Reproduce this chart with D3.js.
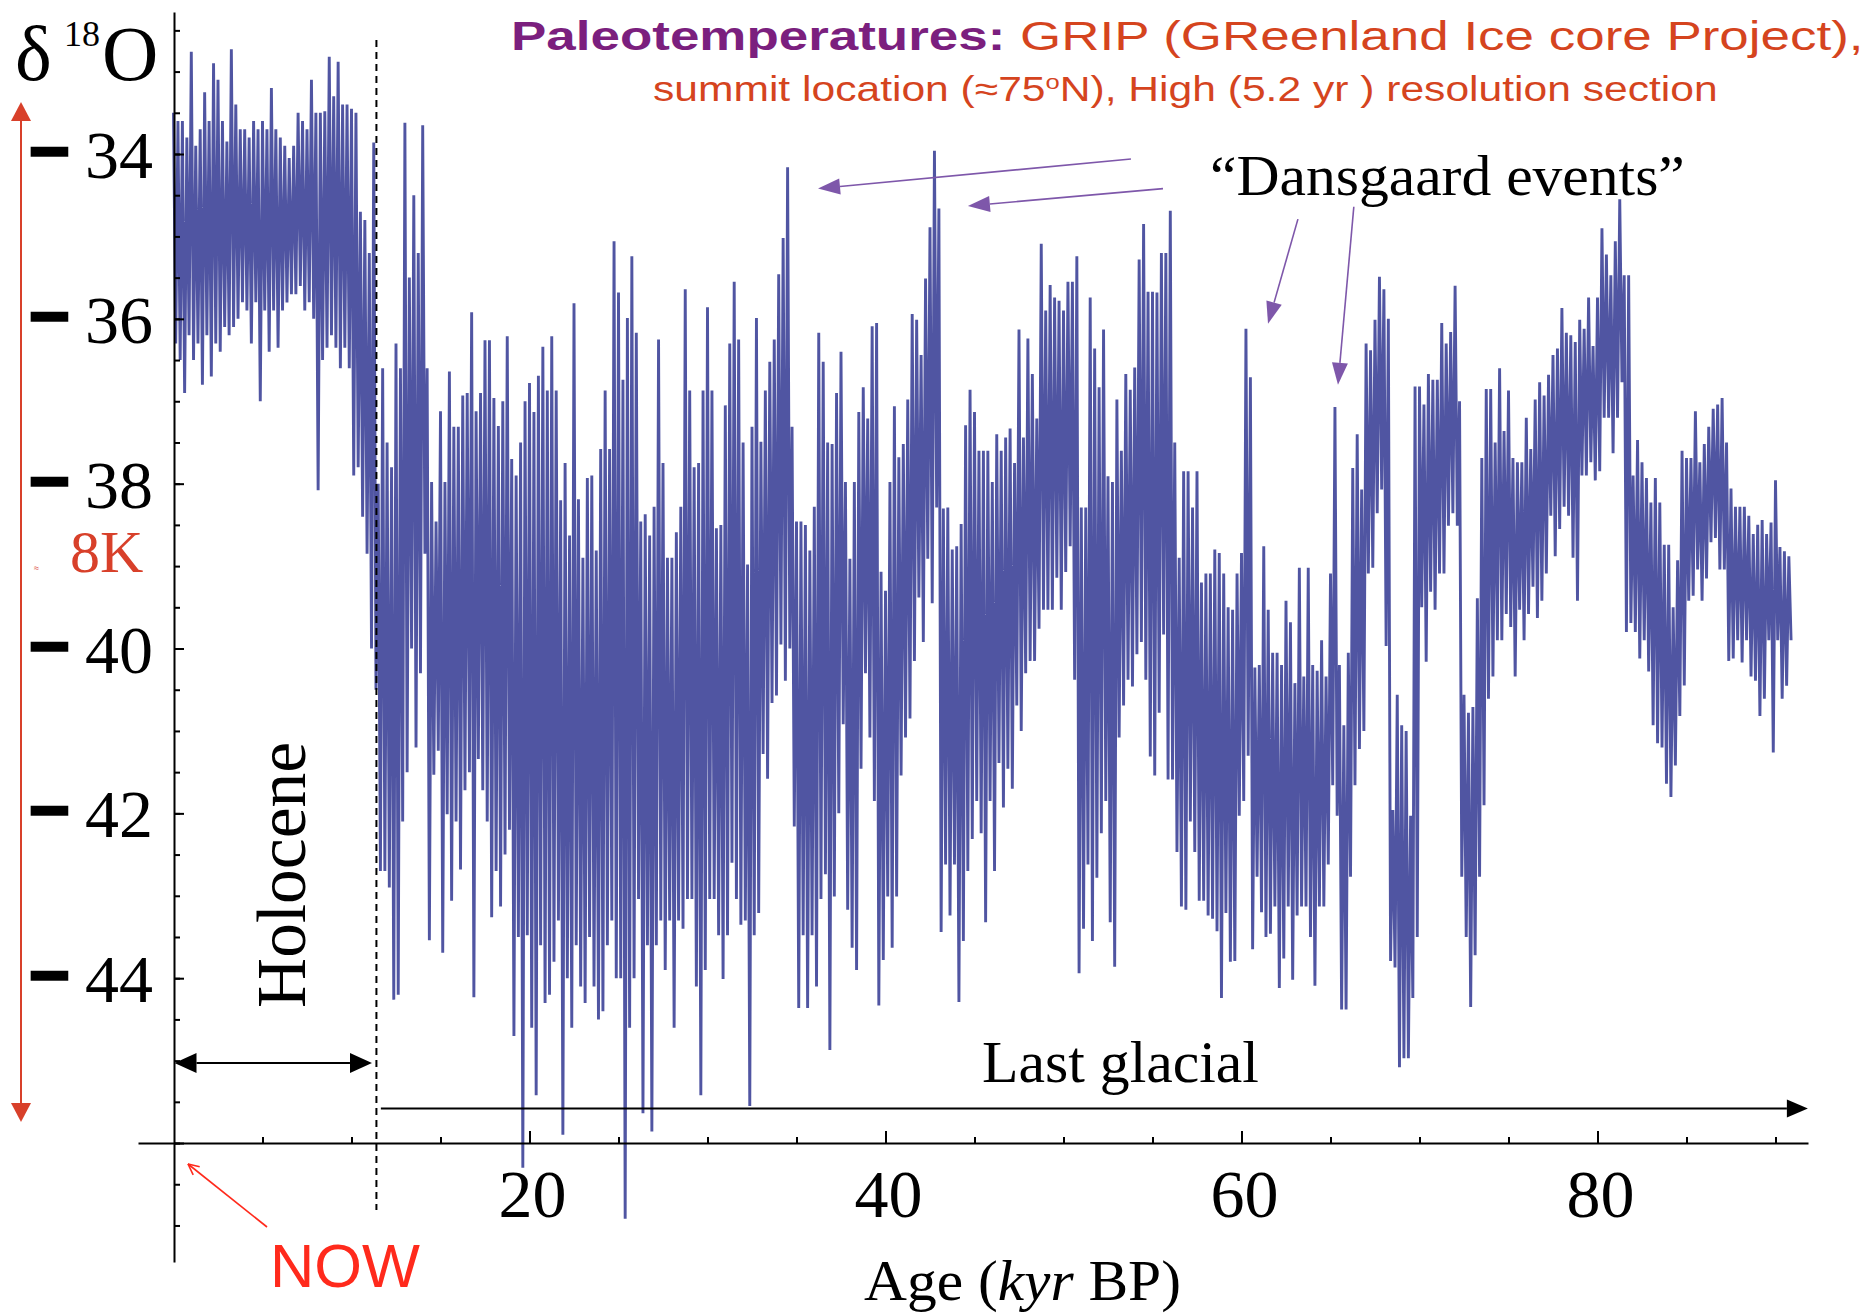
<!DOCTYPE html>
<html><head><meta charset="utf-8">
<script src="https://cdn.jsdelivr.net/npm/d3@7"></script>
<style>html,body{margin:0;padding:0;background:#fff;} svg{display:block;} text{white-space:pre;}</style>
</head><body>
<svg id="chart" width="1871" height="1313"></svg>
<script>
// ---- DATA: GRIP δ18O, read as per-bin upper (hi) and lower (lo) envelope, 0.25 kyr bins ----
const binWidth = 0.25; // kyr
const hi00 = [-33.5,-33.6,-33.6,-33.8,-32.76,-33.9,-33.7,-33.25,-33.6,-32.9,-33.1,-33.6,-33.85,-32.73,-33.4,-33.7,-33.7,-33.8,-33.6,-33.7,-33.6,-33.7,-33.2,-33.7,-33.8,-33.9,-34.05,-33.9,-33.5,-33.6,-33.7,-33.1,-33.5,-33.5,-33.48,-32.82,-33.3,-32.88,-33.4,-33.4];
const lo00 = [-36.3,-36.5,-36.9,-36.2,-36.5,-36.3,-36.8,-36.2,-36.7,-36.3,-36.4,-36.1,-36.2,-36.1,-36.0,-35.8,-35.9,-36.3,-35.8,-37.0,-35.9,-36.4,-35.9,-36.35,-35.9,-35.8,-35.7,-35.7,-35.6,-35.9,-35.8,-36.0,-38.08,-36.5,-36.35,-36.2,-36.35,-36.6,-36.35,-36.6];
const hi10 = [-33.45,-33.5,-34.7,-34.8,-35.2,-33.86,-38.0,-36.6,-37.5,-37.8,-36.3,-36.6,-33.62,-35.5,-34.5,-35.2,-33.65,-36.6,-37.98,-38.46,-37.12,-37.98,-36.64,-37.31,-37.31,-36.93,-36.9,-35.92,-37.12,-36.9,-36.26,-36.26,-36.96,-37.3,-37.0,-36.21,-37.7,-37.9,-37.5,-37.0];
const lo10 = [-37.9,-37.8,-38.4,-38.85,-40.0,-40.5,-42.7,-42.7,-42.9,-44.26,-44.2,-42.1,-41.5,-40.0,-41.2,-40.3,-38.85,-43.54,-41.53,-41.24,-43.69,-42.01,-43.06,-42.1,-42.68,-41.72,-41.5,-44.23,-41.34,-41.72,-42.1,-43.26,-42.7,-43.13,-42.5,-42.2,-44.7,-43.5,-46.3,-43.48];
const hi20 = [-36.78,-37.13,-36.69,-36.34,-36.87,-36.21,-36.87,-38.2,-37.75,-38.63,-35.81,-38.19,-38.9,-37.93,-37.9,-38.81,-37.58,-36.87,-37.58,-35.06,-35.68,-36.74,-35.99,-35.24,-36.17,-38.46,-38.37,-38.63,-38.28,-36.25,-37.75,-38.9,-38.9,-38.59,-38.28,-35.64,-36.87,-37.8,-37.75,-36.87];
const lo20 = [-44.6,-45.42,-43.6,-44.3,-44.2,-43.8,-43.3,-45.9,-44.0,-44.6,-43.6,-44.1,-44.3,-43.5,-44.1,-44.5,-44.4,-43.6,-43.3,-44.0,-44.0,-46.92,-44.6,-44.0,-43.04,-45.64,-43.6,-45.86,-43.6,-43.3,-43.9,-43.3,-44.6,-43.3,-43.4,-43.04,-43.04,-44.1,-45.42,-43.9];
const hi30 = [-35.86,-36.87,-38.54,-38.5,-37.05,-36.3,-35.55,-36.25,-37.5,-38.98,-37.31,-35.99,-37.49,-36.87,-36.52,-36.25,-35.46,-35.02,-34.16,-37.31,-38.46,-38.46,-38.5,-38.81,-38.28,-36.17,-36.52,-37.5,-37.52,-36.9,-36.4,-37.98,-38.91,-37.98,-37.13,-36.83,-37.21,-36.09,-36.05,-39.07];
const lo30 = [-43.04,-43.04,-43.48,-44.01,-43.48,-42.6,-43.04,-43.35,-43.3,-45.55,-43.48,-43.21,-41.28,-41.58,-40.66,-40.57,-39.95,-40.39,-40.0,-42.16,-44.36,-43.48,-44.36,-43.48,-44.1,-43.04,-42.74,-44.87,-43.01,-42.0,-40.92,-43.17,-43.63,-43.9,-41.46,-40.3,-41.08,-41.85,-44.33,-43.78];
const hi40 = [-39.3,-37.98,-37.06,-37.68,-37.52,-36.98,-35.94,-36.01,-36.44,-35.51,-34.89,-33.96,-34.66,-38.3,-38.29,-38.8,-38.76,-38.49,-37.29,-36.86,-37.13,-37.6,-37.6,-37.6,-37.98,-37.4,-37.6,-37.44,-37.33,-37.75,-36.13,-37.44,-36.24,-36.67,-37.21,-35.09,-35.9,-35.59,-35.74,-35.78];
const lo40 = [-43.01,-43.63,-43.01,-41.54,-41.08,-40.85,-40.15,-39.38,-39.92,-38.91,-39.45,-38.29,-43.44,-42.62,-43.24,-42.62,-44.29,-43.55,-42.7,-42.31,-41.85,-42.24,-43.32,-41.85,-42.7,-41.39,-41.93,-41.46,-41.7,-40.69,-41.0,-40.3,-40.15,-40.15,-39.76,-39.53,-39.53,-39.53,-39.14,-39.53];
const hi50 = [-35.9,-35.55,-35.55,-35.24,-38.29,-38.29,-35.74,-36.36,-36.83,-36.13,-37.91,-37.98,-36.98,-37.6,-36.67,-36.86,-36.59,-35.28,-34.85,-35.67,-35.67,-35.68,-35.2,-35.2,-34.69,-37.5,-38.9,-37.85,-37.85,-38.29,-37.85,-39.2,-39.09,-39.09,-38.8,-38.84,-39.09,-39.5,-39.53,-39.09];
const lo50 = [-39.07,-38.76,-40.38,-43.94,-43.4,-42.62,-43.55,-42.78,-42.24,-41.85,-43.32,-43.86,-41.08,-40.69,-40.38,-40.46,-40.07,-39.92,-40.38,-41.31,-41.54,-40.78,-39.83,-41.59,-41.59,-42.47,-43.13,-43.17,-42.1,-42.47,-43.06,-43.06,-43.24,-43.28,-43.43,-44.24,-43.21,-43.8,-43.79,-42.03];
const hi60 = [-38.84,-36.12,-36.71,-40.23,-40.2,-38.76,-39.53,-40.05,-40.05,-40.2,-39.42,-39.68,-40.42,-39.02,-40.34,-39.02,-40.2,-40.27,-39.9,-40.34,-39.09,-37.07,-40.2,-40.93,-40.05,-37.81,-37.4,-38.07,-36.3,-36.38,-36.01,-35.49,-35.64,-36.0,-41.96,-40.56,-40.93,-41.0,-42.03,-36.82];
const lo60 = [-41.85,-41.3,-43.65,-42.77,-43.2,-43.5,-43.46,-43.13,-44.12,-43.76,-43.13,-44.02,-43.24,-43.13,-43.13,-43.5,-44.09,-43.13,-43.13,-42.62,-41.66,-42.03,-44.38,-44.38,-42.77,-41.66,-41.22,-41.0,-39.09,-39.02,-38.36,-38.07,-39.97,-43.79,-43.87,-45.08,-44.97,-44.97,-44.24,-43.5];
const hi70 = [-36.82,-37.04,-36.67,-36.74,-36.74,-36.05,-36.3,-36.16,-35.6,-37.0,-40.56,-40.78,-40.71,-39.39,-37.69,-36.85,-36.85,-37.5,-36.6,-37.36,-36.87,-37.69,-37.74,-37.74,-37.2,-37.58,-36.98,-36.77,-36.93,-36.68,-36.44,-36.36,-35.87,-36.17,-36.2,-36.28,-36.01,-36.12,-35.74,-36.33];
const lo70 = [-39.5,-40.16,-39.31,-39.53,-39.09,-39.09,-38.51,-38.36,-38.51,-42.77,-43.5,-44.35,-43.72,-42.77,-41.9,-40.61,-40.34,-39.9,-39.9,-39.58,-39.74,-40.34,-39.53,-39.9,-39.58,-39.25,-39.63,-39.42,-39.09,-38.39,-38.88,-38.55,-38.28,-38.39,-38.9,-39.42,-37.9,-37.9,-37.74,-37.96];
const hi80 = [-35.74,-34.9,-35.22,-35.47,-35.06,-34.55,-35.47,-35.47,-37.9,-37.47,-37.74,-37.93,-38.23,-37.93,-38.23,-38.74,-38.74,-39.5,-38.93,-37.6,-37.69,-37.69,-37.12,-37.74,-37.52,-37.31,-37.09,-37.04,-36.96,-37.5,-38.06,-38.28,-38.28,-38.28,-38.39,-38.61,-38.5,-38.44,-38.61,-38.47,-37.96,-38.77,-38.82,-38.88];
const lo80 = [-37.85,-37.2,-37.2,-37.63,-37.2,-36.77,-39.8,-39.69,-39.8,-40.12,-39.9,-40.28,-40.93,-41.15,-41.2,-41.64,-41.8,-41.42,-40.82,-40.45,-39.42,-39.36,-39.04,-39.42,-39.15,-38.71,-38.66,-39.04,-39.04,-40.15,-40.12,-39.9,-40.17,-39.9,-40.34,-40.39,-40.82,-40.61,-39.9,-41.26,-39.9,-40.61,-40.45,-39.9];
const segmentStarts = [0,10,20,30,40,50,60,70,80];
const hiSegments = [hi00,hi10,hi20,hi30,hi40,hi50,hi60,hi70,hi80];
const loSegments = [lo00,lo10,lo20,lo30,lo40,lo50,lo60,lo70,lo80];

// tick values / labels
const xLabelValues = [20,40,60,80];
const xMinorTicks = [5,10,15,20,25,30,35,40,45,50,55,60,65,70,75,80,85,90];
const yLabelValues = [-34,-36,-38,-40,-42,-44];
const yMajorTicks = [-34,-36,-38,-40,-42,-44,-46];
const holoceneBoundary = 11.4; // kyr
const dansgaardArrows = [
  {from:[53.79,-34.06], to:[36.21,-34.42]},
  {from:[55.59,-34.42], to:[44.63,-34.63]},
  {from:[63.17,-34.79], to:[61.49,-36.06]},
  {from:[66.31,-34.64], to:[65.42,-36.80]}
];

// ---- DRAW ----
const svg = d3.select("#chart");
svg.append("rect").attr("width",1871).attr("height",1313).attr("fill","#fff");

const x = d3.scaleLinear().domain([0,80]).range([173.5,1597.5]);
const y = d3.scaleLinear().domain([-34,-44]).range([154,978.2]);

function arrowHead(g, tip, from, len, half, color){
  const dx = tip[0]-from[0], dy = tip[1]-from[1];
  const L = Math.hypot(dx,dy), ux = dx/L, uy = dy/L;
  const bx = tip[0]-ux*len, by = tip[1]-uy*len;
  g.append("path").attr("d",`M${tip[0]},${tip[1]}L${bx-uy*half},${by+ux*half}L${bx+uy*half},${by-ux*half}Z`).attr("fill",color);
  return [bx,by];
}
function placeText(t, tx, ty, width, extra){
  const w = t.node().getComputedTextLength();
  const k = width / w;
  t.attr("transform", `translate(${tx},${ty})${extra||""} scale(${k},1)`);
}

// data line
const pts = [];
segmentStarts.forEach((s,j)=>{
  hiSegments[j].forEach((h,i)=>{
    const a = s + i*binWidth;
    pts.push([a,h]);
    pts.push([a+binWidth/2, loSegments[j][i]]);
  });
});
svg.append("path").datum(pts)
  .attr("d", d3.line().x(d=>x(d[0])).y(d=>y(d[1])))
  .attr("fill","none").attr("stroke","#5055a2").attr("stroke-width",2.9).attr("stroke-linejoin","bevel");

// Holocene dashed boundary
svg.append("line").attr("x1",x(holoceneBoundary)).attr("x2",x(holoceneBoundary))
  .attr("y1",40).attr("y2",1210).attr("stroke","#000").attr("stroke-width",2).attr("stroke-dasharray","7,5");

// axes
const xAxisScale = d3.scaleLinear().domain([x.invert(138), x.invert(1808)]).range([138,1808]);
const gx = svg.append("g").attr("transform",`translate(0,${y(-46)})`);
gx.call(d3.axisBottom(xAxisScale).tickValues(xMinorTicks).tickSize(-6).tickSizeOuter(0).tickFormat(""));
gx.append("g").call(d3.axisBottom(xAxisScale).tickValues(xLabelValues).tickSize(-12).tickSizeOuter(0).tickFormat("")).select(".domain").remove();
gx.selectAll("path,line").attr("stroke","#000").attr("stroke-width",2);

const yAxisScale = d3.scaleLinear().domain([y.invert(12), y.invert(1262)]).range([12,1262]);
const yMinor = d3.range(-32.5,-47.01,-0.5);
const gy = svg.append("g").attr("transform","translate(174,0)");
gy.call(d3.axisRight(yAxisScale).tickValues(yMinor).tickSize(6).tickSizeOuter(0).tickFormat(""));
gy.append("g").call(d3.axisRight(yAxisScale).tickValues(yMajorTicks).tickSize(10).tickSizeOuter(0).tickFormat("")).select(".domain").remove();
gy.selectAll("path,line").attr("stroke","#000").attr("stroke-width",2);

// x tick labels
xLabelValues.forEach(v=>{
  svg.append("text").attr("x",x(v)+3).attr("y",1217).attr("text-anchor","middle")
    .attr("font-family","Liberation Serif").attr("font-size",68).attr("fill","#000").text(v);
});
// y tick labels "− 34"
yLabelValues.forEach(v=>{
  const t = svg.append("text").attr("font-family","Liberation Serif").attr("fill","#000");
  t.append("tspan").attr("x",29).attr("y",y(v)+21).attr("font-family","Liberation Sans").attr("font-weight","bold")
    .attr("font-size",70).attr("stroke","#000").attr("stroke-width",2.5).text("\u2212");
  t.append("tspan").attr("x",153).attr("y",y(v)+24).attr("text-anchor","end").attr("font-size",68).text(" "+Math.abs(v));
});

// y title δ18O
const yt = svg.append("text").attr("font-family","Liberation Serif").attr("fill","#000");
yt.append("tspan").attr("x",15).attr("y",80).attr("font-size",78).text("δ");
yt.append("tspan").attr("x",64).attr("y",46).attr("font-size",36).text("18");
yt.append("tspan").attr("x",102).attr("y",80).attr("font-size",78).text("O");

// red vertical double arrow + 8K
const red = "#d8402a";
svg.append("line").attr("x1",21).attr("x2",21).attr("y1",115).attr("y2",1108).attr("stroke",red).attr("stroke-width",2);
arrowHead(svg,[21,102],[21,200],19,10,red);
arrowHead(svg,[21,1122],[21,1000],19,10,red);
svg.append("text").attr("x",34).attr("y",571).attr("font-family","Liberation Sans").attr("font-size",9).attr("fill",red).text("≈");
svg.append("text").attr("x",70).attr("y",572).attr("font-family","Liberation Serif").attr("font-size",60).attr("fill",red).text("8K");

// Holocene label and arrow
const hol = svg.append("text").attr("font-family","Liberation Serif").attr("font-size",70).attr("fill","#000").text("Holocene");
placeText(hol, 305, 1008, 266, " rotate(-90)");
const yHol = y(-45.03);
const hA = arrowHead(svg,[x(0)+1,yHol],[x(5),yHol],22,10,"#000");
const hB = arrowHead(svg,[x(11.15),yHol],[x(5),yHol],22,10,"#000");
svg.append("line").attr("x1",hA[0]).attr("x2",hB[0]).attr("y1",yHol).attr("y2",yHol).attr("stroke","#000").attr("stroke-width",2);

// Last glacial label and arrow
const yLG = y(-45.58);
const lgB = arrowHead(svg,[x(91.82),yLG],[x(50),yLG],21,9,"#000");
svg.append("line").attr("x1",x(11.65)).attr("x2",lgB[0]).attr("y1",yLG).attr("y2",yLG).attr("stroke","#000").attr("stroke-width",2);
const lg = svg.append("text").attr("font-family","Liberation Serif").attr("font-size",60).attr("fill","#000").text("Last glacial");
placeText(lg, 982, 1082, 277);

// x title
const xt = svg.append("text").attr("font-family","Liberation Serif").attr("font-size",58).attr("fill","#000");
xt.append("tspan").text("Age (");
xt.append("tspan").attr("font-style","italic").text("kyr");
xt.append("tspan").text(" BP)");
placeText(xt, 864, 1300, 317);

// NOW
const nowColor = "#ff2a1c";
const nowT = svg.append("text").attr("font-family","Liberation Sans").attr("font-size",62).attr("fill",nowColor).text("NOW");
placeText(nowT, 270, 1287, 150);
{
  const tip=[188,1164], from=[267,1227];
  svg.append("line").attr("x1",from[0]).attr("y1",from[1]).attr("x2",tip[0]).attr("y2",tip[1]).attr("stroke",nowColor).attr("stroke-width",1.6);
  const ang = Math.atan2(from[1]-tip[1], from[0]-tip[0]);
  [0.45,-0.45].forEach(d=>{
    svg.append("line").attr("x1",tip[0]).attr("y1",tip[1])
      .attr("x2",tip[0]+12*Math.cos(ang+d)).attr("y2",tip[1]+12*Math.sin(ang+d))
      .attr("stroke",nowColor).attr("stroke-width",1.6);
  });
}

// Title
const t1 = svg.append("text").attr("font-family","Liberation Sans").attr("font-size",41);
t1.append("tspan").attr("font-weight","bold").attr("fill","#7b1f7e").text("Paleotemperatures:");
t1.append("tspan").attr("fill","#d5441e").text(" GRIP (GReenland Ice core Project),");
placeText(t1, 511, 50, 1353);
const t2 = svg.append("text").attr("font-family","Liberation Sans").attr("font-size",35).attr("fill","#d5441e");
t2.append("tspan").text("summit location (≈75");
t2.append("tspan").attr("font-size",21).attr("dy",-12).text("o");
t2.append("tspan").attr("dy",12).text("N), High (5.2 yr ) resolution section");
placeText(t2, 653, 101, 1065);

// Dansgaard events
const dColor = "#7e57aa";
const dt = svg.append("text").attr("font-family","Liberation Serif").attr("font-size",57).attr("fill","#000").text("“Dansgaard events”");
placeText(dt, 1210, 195, 475);
dansgaardArrows.forEach(a=>{
  const from=[x(a.from[0]),y(a.from[1])], tip=[x(a.to[0]),y(a.to[1])];
  const b = arrowHead(svg, tip, from, 22, 8, dColor);
  svg.append("line").attr("x1",from[0]).attr("y1",from[1]).attr("x2",b[0]).attr("y2",b[1]).attr("stroke",dColor).attr("stroke-width",1.6);
});
</script>
</body></html>
